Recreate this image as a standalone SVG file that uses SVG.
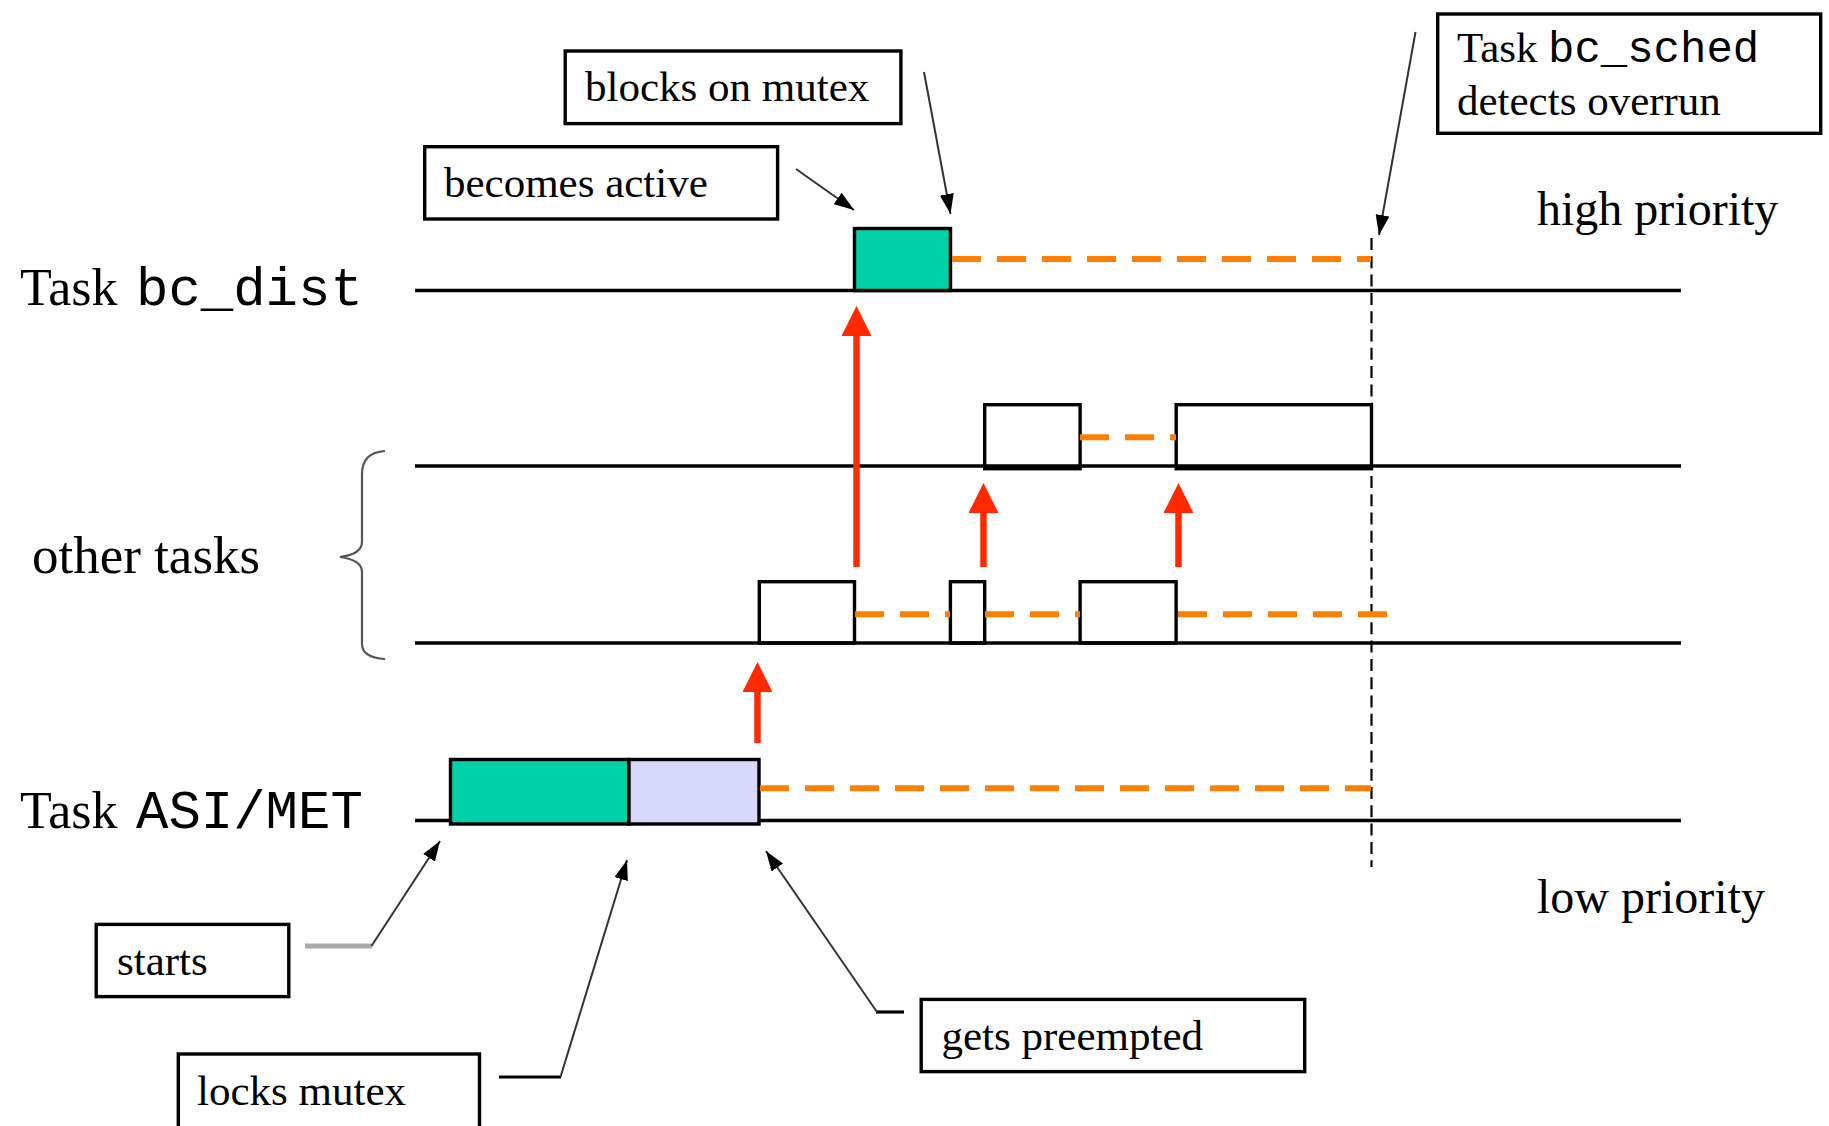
<svg xmlns="http://www.w3.org/2000/svg" width="1829" height="1126" viewBox="0 0 1829 1126">
<style>
.tl{stroke:#000;stroke-width:3.4;fill:none}
.box{stroke:#000;stroke-width:3.4;fill:none}
.abox{stroke:#000;stroke-width:3.4;fill:#fff}
.wait{stroke:#ff8000;stroke-width:6;stroke-dasharray:29 16;fill:none}
.red{stroke:#ff2a00;stroke-width:6.5;fill:none}
.ann{stroke:#333;stroke-width:2;fill:none}
.seri{font-family:"Liberation Serif","Times New Roman",serif;fill:#000}
.mono{font-family:"Liberation Mono","Courier New",monospace}
.big{font-size:52px}
.pri{font-size:48px}
.lab{font-size:43px}
</style>
<defs>
<marker id="redhead" markerUnits="userSpaceOnUse" viewBox="0 0 30 30" markerWidth="30" markerHeight="30" refX="0" refY="15" orient="auto">
<path d="M0,0 L30,15 L0,30 z" fill="#ff2a00"/>
</marker>
<marker id="blkhead" markerUnits="userSpaceOnUse" viewBox="0 0 20 14" markerWidth="20" markerHeight="14" refX="20" refY="7" orient="auto">
<path d="M0,0 L20,7 L0,14 z" fill="#000"/>
</marker>
</defs>
<rect width="1829" height="1126" fill="#fff"/>

<g id="timelines">
<line class="tl" x1="415" y1="290.5" x2="1681" y2="290.5"/>
<line class="tl" x1="415" y1="466" x2="1681" y2="466"/>
<line class="tl" x1="415" y1="643" x2="1681" y2="643"/>
<line class="tl" x1="415" y1="820.5" x2="1681" y2="820.5"/>
<line x1="1371.5" y1="238" x2="1371.5" y2="867" stroke="#000" stroke-width="2.2" stroke-dasharray="12 6.3"/>
</g>

<g id="labels">
<text class="seri big" x="20" y="305">Task <tspan class="mono" x="136" font-size="54">bc_dist</tspan></text>
<text class="seri" font-size="53" x="32" y="573">other tasks</text>
<text class="seri big" x="20" y="828">Task <tspan class="mono" x="136" font-size="54">ASI/MET</tspan></text>
<text class="seri pri" x="1537" y="225">high priority</text>
<text class="seri pri" x="1537" y="913">low priority</text>
<path d="M385,451 C369,452 362,460 362,474 L362,542 C362,550 355,555 340,557 C355,559 362,564 362,572 L362,644 C362,653 369,658 385,659" stroke="#555" stroke-width="2.2" fill="none"/>
</g>

<g id="bc_dist-run">
<rect x="854.5" y="228.5" width="96" height="62" fill="#00d0a8" stroke="#000" stroke-width="3.4"/>
</g>
<g id="other-high-1"><rect class="box" x="984.7" y="404.7" width="95.4" height="64"/></g>
<g id="other-high-2"><rect class="box" x="1176.2" y="404.7" width="195.3" height="64"/></g>
<g id="other-low-1"><rect class="box" x="759.3" y="581.7" width="95.2" height="61.3"/></g>
<g id="other-low-2"><rect class="box" x="950.4" y="581.7" width="34.3" height="61.3"/></g>
<g id="other-low-3"><rect class="box" x="1080.1" y="581.7" width="96" height="61.3"/></g>
<g id="asimet-run">
<rect x="450.5" y="759.5" width="178.5" height="64.5" fill="#00d0a8" stroke="#000" stroke-width="3.4"/>
<rect x="629" y="759.5" width="130" height="64.5" fill="#d6d8fc" stroke="#000" stroke-width="3.4"/>
</g>

<g id="connectors">
<line class="wait" x1="952" y1="259" x2="1371" y2="259"/>
<line class="wait" x1="1080" y1="437.3" x2="1176" y2="437.3"/>
<line class="wait" x1="855" y1="614.3" x2="950" y2="614.3"/>
<line class="wait" x1="985" y1="614.3" x2="1080" y2="614.3"/>
<line class="wait" x1="1178" y1="614.3" x2="1387" y2="614.3"/>
<line class="wait" x1="760" y1="788.3" x2="1371" y2="788.3"/>
<line class="red" x1="856.5" y1="567" x2="856.5" y2="336" marker-end="url(#redhead)"/>
<line class="red" x1="983.5" y1="567" x2="983.5" y2="513" marker-end="url(#redhead)"/>
<line class="red" x1="1178.5" y1="567" x2="1178.5" y2="513" marker-end="url(#redhead)"/>
<line class="red" x1="757.5" y1="743" x2="757.5" y2="692" marker-end="url(#redhead)"/>
<line class="ann" x1="924" y1="72" x2="950.5" y2="214" marker-end="url(#blkhead)"/>
<line class="ann" x1="796" y1="169" x2="854" y2="210" marker-end="url(#blkhead)"/>
<line class="ann" x1="1415.5" y1="32" x2="1379" y2="235" marker-end="url(#blkhead)"/>
<line x1="305" y1="946" x2="372" y2="946" stroke="#aaa" stroke-width="5"/>
<line class="ann" x1="371.5" y1="946" x2="440" y2="841" marker-end="url(#blkhead)"/>
<line x1="499" y1="1077" x2="561" y2="1077" stroke="#000" stroke-width="3.2"/>
<line class="ann" x1="560.5" y1="1077" x2="627" y2="860" marker-end="url(#blkhead)"/>
<line x1="876" y1="1012" x2="904" y2="1012" stroke="#000" stroke-width="3.2"/>
<line class="ann" x1="877" y1="1012" x2="766" y2="851" marker-end="url(#blkhead)"/>
</g>

<g id="note-blocks">
<rect class="abox" x="565.2" y="51" width="335.7" height="72.6"/>
<text class="seri lab" x="585" y="101">blocks on mutex</text>
</g>
<g id="note-becomes">
<rect class="abox" x="424.7" y="146.7" width="352.9" height="72.3"/>
<text class="seri lab" x="444" y="197">becomes active</text>
</g>
<g id="note-sched">
<rect class="abox" x="1437.7" y="14" width="383" height="119.3"/>
<text class="seri lab" x="1457" y="62">Task <tspan class="mono" x="1548" font-size="44">bc_sched</tspan></text>
<text class="seri lab" x="1457" y="115">detects overrun</text>
</g>
<g id="note-starts">
<rect class="abox" x="96.2" y="924.4" width="192.6" height="72.2"/>
<text class="seri lab" x="117" y="975">starts</text>
</g>
<g id="note-locks">
<rect class="abox" x="178.3" y="1054" width="301.2" height="100"/>
<text class="seri lab" x="197" y="1105">locks mutex</text>
</g>
<g id="note-preempted">
<rect class="abox" x="921.2" y="999.4" width="383.5" height="72.2"/>
<text class="seri lab" x="941.5" y="1050">gets preempted</text>
</g>
</svg>
